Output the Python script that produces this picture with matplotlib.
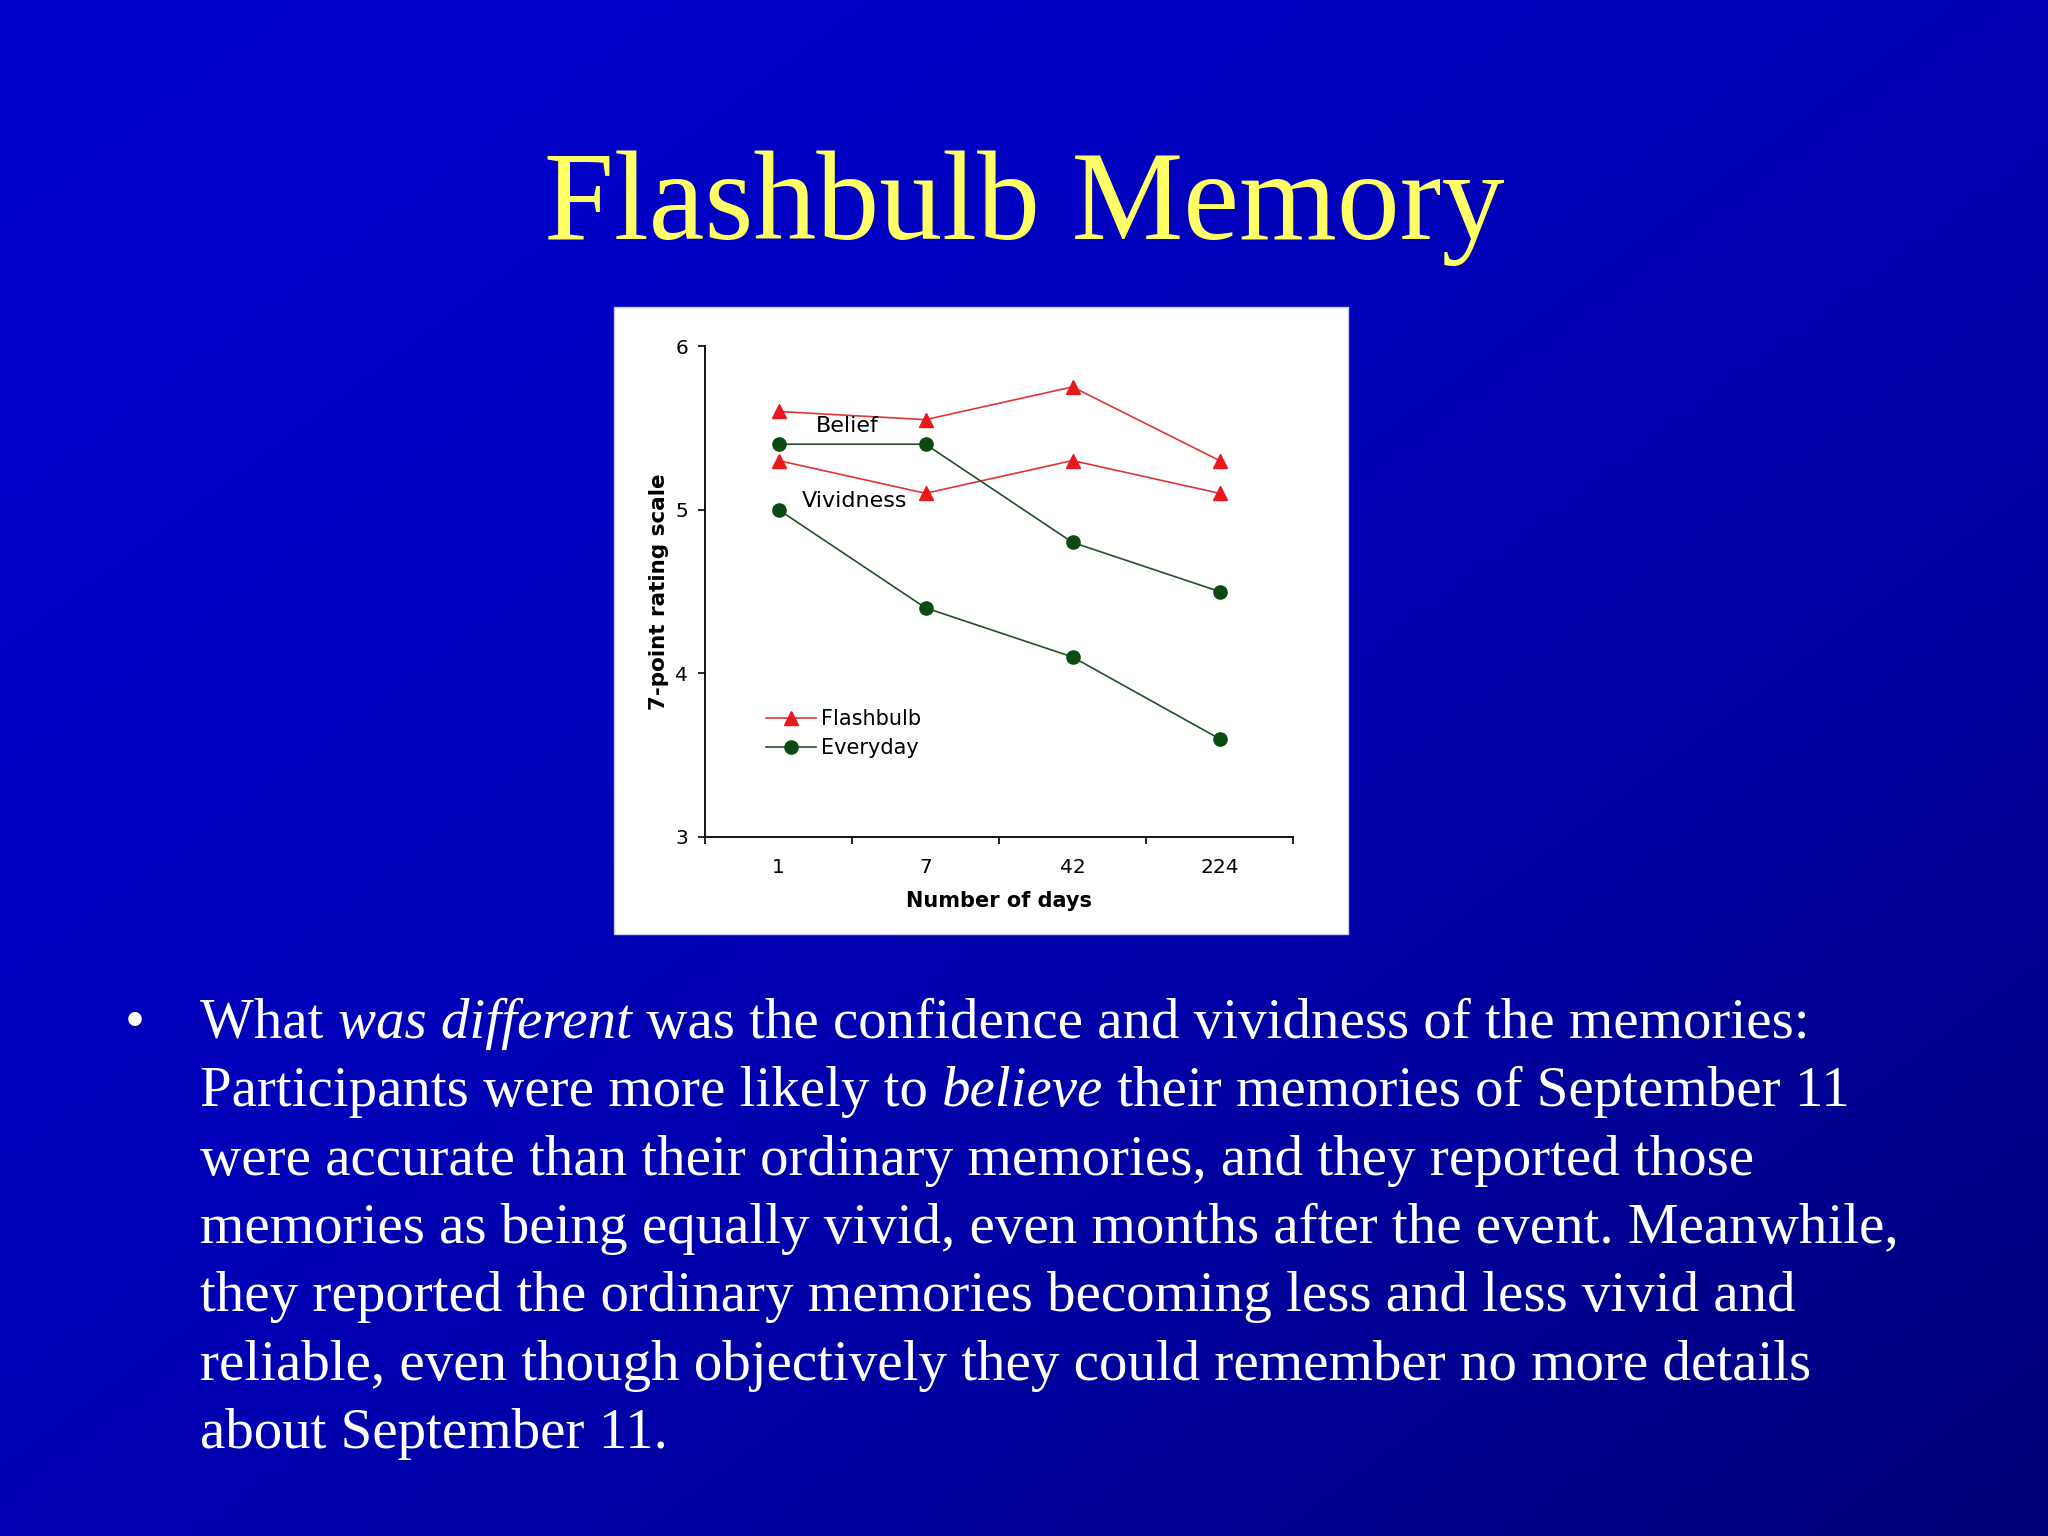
import numpy as np
import matplotlib
matplotlib.use("Agg")
import matplotlib.pyplot as plt
from matplotlib.patches import Rectangle

# ---------------- data ----------------
days = ["1", "7", "42", "224"]
flash_belief = [5.6, 5.55, 5.75, 5.3]
flash_vivid = [5.3, 5.1, 5.3, 5.1]
every_belief = [5.4, 5.4, 4.8, 4.5]
every_vivid = [5.0, 4.4, 4.1, 3.6]
y_ticks = [3, 4, 5, 6]

title_text = "Flashbulb Memory"
body_lines = [
    [("What ", "normal"), ("was different", "italic"),
     (" was the confidence and vividness of the memories:", "normal")],
    [("Participants were more likely to ", "normal"), ("believe", "italic"),
     (" their memories of September 11", "normal")],
    [("were accurate than their ordinary memories, and they reported those", "normal")],
    [("memories as being equally vivid, even months after the event. Meanwhile,", "normal")],
    [("they reported the ordinary memories becoming less and less vivid and", "normal")],
    [("reliable, even though objectively they could remember no more details", "normal")],
    [("about September 11.", "normal")],
]

W, H = 2048, 1536
fig = plt.figure(figsize=(W / 100, H / 100), dpi=100)

# ---------------- background gradient ----------------
bg = fig.add_axes([0, 0, 1, 1], zorder=-10)
xx, yy = np.meshgrid(np.linspace(0, 1, 256), np.linspace(0, 1, 192))
t = (xx + yy) / 2.0
blue = (204 - 84 * t ** 1.7) / 255.0
img = np.zeros((192, 256, 3))
img[..., 2] = blue
bg.imshow(img, aspect="auto", extent=[0, 1, 1, 0], interpolation="bilinear")
bg.set_xlim(0, 1)
bg.set_ylim(1, 0)
bg.axis("off")

# ---------------- title ----------------
fig.text(1024 / W, 1 - 239 / H, title_text, ha="center", va="baseline",
         fontsize=90.5, color="#FFFF66", family="Liberation Serif")

# ---------------- white chart panel ----------------
panel = Rectangle((614 / W, 1 - 934 / H), (1348 - 614) / W, (934 - 307) / H,
                  transform=fig.transFigure, facecolor="white",
                  edgecolor="#C8C8F0", linewidth=1, zorder=-5)
fig.patches.append(panel)

# ---------------- chart ----------------
ax = fig.add_axes([705 / W, 1 - 837 / H, (1293 - 705) / W, (837 - 346) / H])
ax.set_facecolor("white")
x = np.arange(len(days))
red = "#E8191E"
redline = "#E03535"
green = "#0B4A12"
greenline = "#23502A"

ax.plot(x, flash_belief, color=redline, lw=1.2, marker="^", ms=9.5,
        mfc=red, mec=red, label="Flashbulb", clip_on=False)
ax.plot(x, flash_vivid, color=redline, lw=1.2, marker="^", ms=9.5,
        mfc=red, mec=red, label="_nolegend_", clip_on=False)
ax.plot(x, every_belief, color=greenline, lw=1.2, marker="o", ms=9.5,
        mfc=green, mec=green, label="Everyday", clip_on=False)
ax.plot(x, every_vivid, color=greenline, lw=1.2, marker="o", ms=9.5,
        mfc=green, mec=green, label="_nolegend_", clip_on=False)

ax.set_xlim(-0.5, 3.5)
ax.set_ylim(3, 6)
ax.set_yticks(y_ticks)
ax.set_yticklabels([str(v) for v in y_ticks], fontsize=14.5, family="DejaVu Sans")
ax.set_xticks(x)
ax.set_xticklabels(days, fontsize=14.5, family="DejaVu Sans")
ax.set_xticks(np.arange(-0.5, 3.6, 1.0), minor=True)
ax.tick_params(axis="x", which="major", length=0, pad=15)
ax.tick_params(axis="x", which="minor", length=5, width=1.2, direction="out")
ax.tick_params(axis="y", which="major", length=5, width=1.2, direction="out", pad=7)
for s in ["top", "right"]:
    ax.spines[s].set_visible(False)
for s in ["left", "bottom"]:
    ax.spines[s].set_linewidth(1.3)
    ax.spines[s].set_color("black")

ax.set_xlabel("Number of days", fontsize=15, fontweight="bold", labelpad=10,
              family="DejaVu Sans")
ax.set_ylabel("7-point rating scale", fontsize=15.5, fontweight="bold", labelpad=5,
              family="DejaVu Sans")

ax.text(0.47, 5.51, "Belief", fontsize=16, ha="center", va="center",
        family="DejaVu Sans")
ax.text(0.52, 5.05, "Vividness", fontsize=16, ha="center", va="center",
        family="DejaVu Sans")

leg = ax.legend(loc="upper left", bbox_to_anchor=(0.09, 0.278), frameon=False,
                fontsize=15, handlelength=2.4, handletextpad=0.25,
                labelspacing=0.45, borderaxespad=0)
for txt in leg.get_texts():
    txt.set_family("DejaVu Sans")

# ---------------- body text with italics ----------------
renderer = fig.canvas.get_renderer()
body_size = 41
body_font = "Liberation Serif"


def seg_width(s, style):
    a = fig.text(0, 0, "|" + s + "|", fontsize=body_size, family=body_font,
                 style=style)
    b = fig.text(0, 0, "||", fontsize=body_size, family=body_font, style=style)
    w = a.get_window_extent(renderer).width - b.get_window_extent(renderer).width
    a.remove()
    b.remove()
    return w


fig.text(125 / W, 1 - 1038 / H, "\u2022", fontsize=body_size, family=body_font,
         color="white", va="baseline", ha="left")
base_x = 200
base_y = 1038
line_gap = 68.3
for i, segs in enumerate(body_lines):
    cx = base_x
    yb = 1 - (base_y + i * line_gap) / H
    for s, style in segs:
        fig.text(cx / W, yb, s, fontsize=body_size, family=body_font,
                 style=style, color="white", va="baseline", ha="left")
        cx += seg_width(s, style)

fig.savefig("out.png", dpi=100)
